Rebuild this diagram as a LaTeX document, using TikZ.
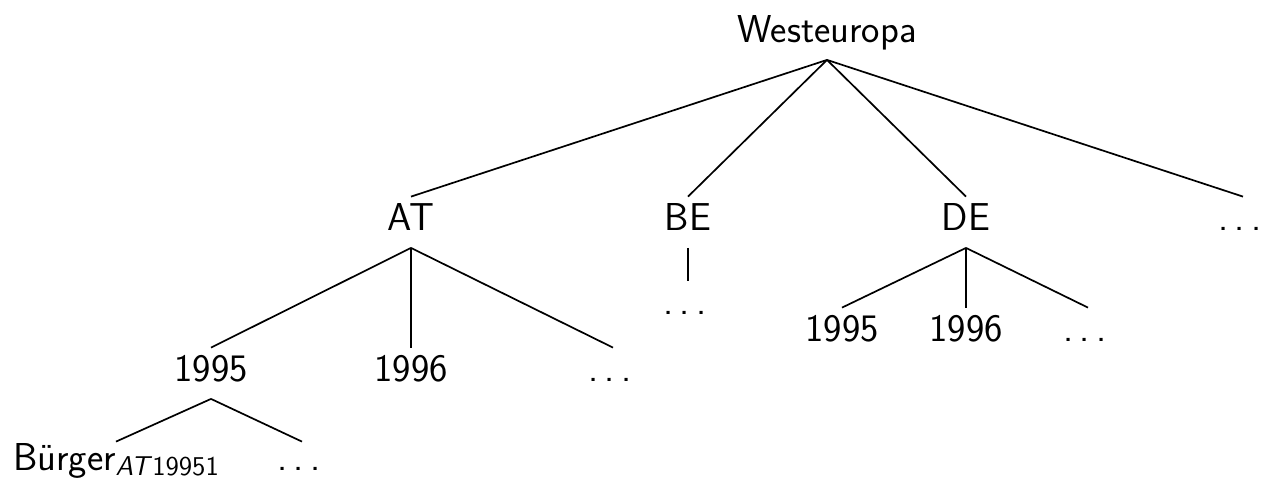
\documentclass[tikz,border=0pt]{standalone}
\usepackage{fontspec}
% spaced ellipsis with a trailing kern, as in classic LaTeX
\newcommand\sdots{.\kern0.1667em.\kern0.1667em.\kern0.1667em}
\begin{document}
\begin{tikzpicture}[x=0.5pt, y=-0.5pt,
  every node/.style={font=\fontsize{19.45}{23}\selectfont\sffamily},
  tn/.style={anchor=base, inner sep=0pt, text height=16.5pt, text depth=8.75pt},
  edge/.style={line width=0.85pt},
  vedge/.style={line width=1.4pt}]
  \useasboundingbox (0,0) rectangle (1269,484);
  % root
  \node[tn] (w) at (827,42) {Westeuropa};
  % countries
  \node[tn] (at) at (411,230) {AT};
  \node[tn] (be) at (688,230) {BE};
  \node[tn] (de) at (966,230) {DE};
  \node[tn] (cx) at (1243,230) {\sdots};
  % years of AT
  \node[tn] (at95) at (211,381) {1995};
  \node[tn] (at96) at (411,381) {1996};
  \node[tn] (atx) at (613,381) {\sdots};
  % BE
  \node[tn] (bex) at (688,314) {\sdots};
  % years of DE
  \node[tn] (de95) at (842,341) {1995};
  \node[tn] (de96) at (966,341) {1996};
  \node[tn] (dex) at (1088,341) {\sdots};
  % citizens of AT 1995
  \node[tn, text height=14pt] (b) at (116,470)
    {Bürger\raisebox{-2.5pt}{\fontsize{13.6}{15}\selectfont\textit{AT\/}19951}};
  \node[tn, text height=14pt] (bx) at (302,470) {\sdots};
  % edges
  \foreach \c in {at,be,de,cx} \draw[edge] (w.south) -- (\c.north);
  \draw[edge] (at.south) -- (at95.north);
  \draw[vedge] (at.south) -- (at96.north);
  \draw[edge] (at.south) -- (atx.north);
  \draw[vedge] (be.south) -- (bex.north);
  \draw[edge] (de.south) -- (de95.north);
  \draw[vedge] (de.south) -- (de96.north);
  \draw[edge] (de.south) -- (dex.north);
  \foreach \c in {b,bx} \draw[edge] (at95.south) -- (\c.north);
\end{tikzpicture}
\end{document}
